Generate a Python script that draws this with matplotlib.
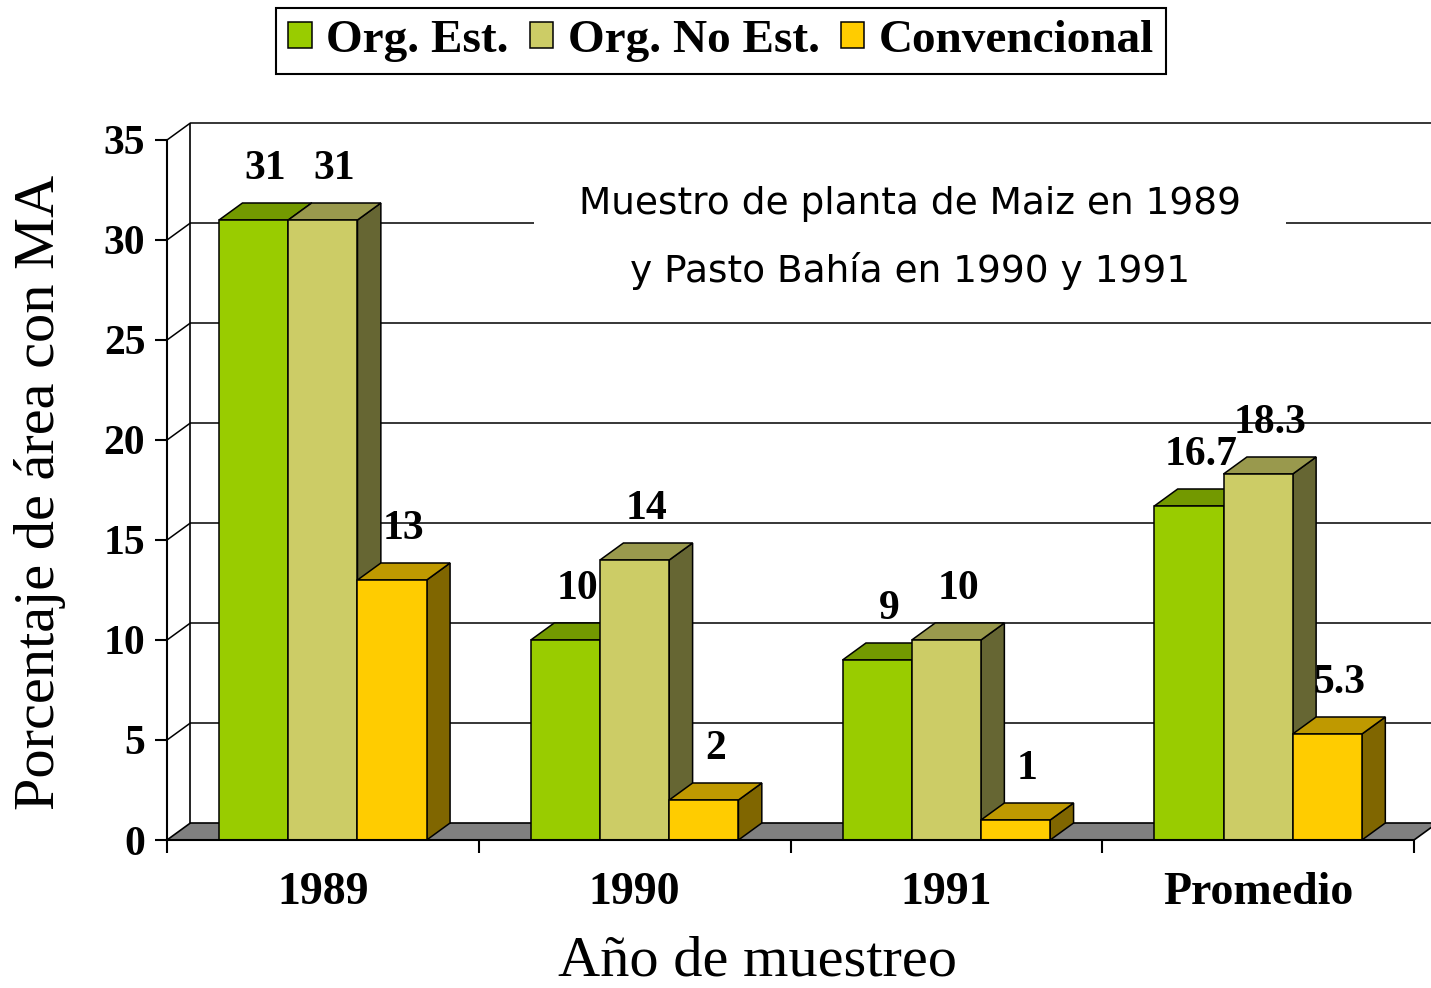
import matplotlib
matplotlib.use('Agg')
import matplotlib.pyplot as plt
from matplotlib.patches import Polygon, Patch

# data
categories = ['1989', '1990', '1991', 'Promedio']
series_names = ['Org. Est.', 'Org. No Est.', 'Convencional']
org_est = [31, 10, 9, 16.7]
org_no_est = [31, 14, 10, 18.3]
convencional = [13, 2, 1, 5.3]
y_ticks = [0, 5, 10, 15, 20, 25, 30, 35]

# face colours: front, top, side
front_colors = ['#99CC00', '#CCCC66', '#FFCC00']
top_colors = ['#739900', '#99994D', '#BF9900']
side_colors = ['#4D6600', '#666633', '#806600']

plt.rcParams['font.family'] = ['Liberation Serif', 'DejaVu Serif']

fig = plt.figure(figsize=(14.31, 9.88), dpi=100)
ax = fig.add_axes([167 / 1431, 148 / 988, 1264 / 1431, 717 / 988])

dx, dy = 0.075, 0.85          # 3d depth offset in data units
bar_w = 0.222
x_max = 1264 / 311.75
y_top = 35

ax.set_xlim(0, x_max)
ax.set_ylim(0, y_top + dy)

# floor
n = len(categories)
floor = Polygon([(0, 0), (n, 0), (n + dx, dy), (dx, dy)], closed=True,
                facecolor='#808080', edgecolor='black', lw=1.2, zorder=1)
ax.add_patch(floor)

# back wall gridlines + side wall diagonals
for v in y_ticks[1:]:
    ax.plot([0, dx, x_max], [v, v + dy, v + dy], color='black', lw=1.1,
            zorder=0.5, clip_on=False)
ax.plot([dx, dx], [dy, y_top + dy], color='black', lw=1.2, zorder=0.5)

# bars
series = [org_est, org_no_est, convencional]
for i in range(n):
    center = i + 0.5
    for k, vals in enumerate(series):
        v = vals[i]
        x0 = center + (k - 1.5) * bar_w
        x1 = x0 + bar_w
        z = 3 + i * 3 + k
        ax.add_patch(Polygon([(x1, 0), (x1 + dx, dy), (x1 + dx, v + dy), (x1, v)],
                             closed=True, facecolor=side_colors[k],
                             edgecolor='black', lw=1.1, zorder=z))
        ax.add_patch(Polygon([(x0, v), (x1, v), (x1 + dx, v + dy), (x0 + dx, v + dy)],
                             closed=True, facecolor=top_colors[k],
                             edgecolor='black', lw=1.1, zorder=z))
        ax.add_patch(Polygon([(x0, 0), (x1, 0), (x1, v), (x0, v)],
                             closed=True, facecolor=front_colors[k],
                             edgecolor='black', lw=1.1, zorder=z))
        ax.text(x0 + bar_w / 2 + dx / 2, v + dy + 1.7, f'{v:g}',
                ha='center', va='center', fontsize=30, fontweight='bold',
                zorder=20)

# axes
for side in ['top', 'right']:
    ax.spines[side].set_visible(False)
ax.spines['left'].set_bounds(0, y_top)
ax.spines['bottom'].set_bounds(0, n)
ax.spines['left'].set_linewidth(1.5)
ax.spines['bottom'].set_linewidth(1.5)
ax.spines['left'].set_zorder(30)
ax.spines['bottom'].set_zorder(30)

ax.set_yticks(y_ticks)
ax.set_yticklabels([str(t) for t in y_ticks], fontsize=30, fontweight='bold')
ax.tick_params(axis='y', direction='out', length=8.6, width=1.5, pad=7)

ax.set_xticks(range(n + 1))
ax.set_xticklabels([])
ax.tick_params(axis='x', which='major', direction='out', length=9.4, width=1.5)
ax.set_xticks([i + 0.5 for i in range(n)], minor=True)
ax.set_xticklabels(categories, minor=True, fontsize=33, fontweight='bold')
ax.tick_params(axis='x', which='minor', length=0, pad=23)

fig.text(40 / 1431, 1 - 492 / 988, 'Porcentaje de área con MA', rotation=90,
         ha='center', va='center', fontsize=42)
fig.text(757 / 1431, 1 - 961 / 988, 'Año de muestreo',
         ha='center', va='center', fontsize=42)

# note inside the plot
ax.text(2.383, 31.8, 'Muestro de planta de Maiz en 1989', ha='center', va='center',
        fontsize=27, family='DejaVu Sans', zorder=10,
        bbox=dict(boxstyle='square,pad=1.2', facecolor='white', edgecolor='none'))
ax.text(2.383, 28.45, 'y Pasto Bahía en 1990 y 1991', ha='center', va='center',
        fontsize=27, family='DejaVu Sans', zorder=11)

handles = [Patch(facecolor=front_colors[k], edgecolor='black', lw=1.1,
                 label=series_names[k]) for k in range(3)]
leg = fig.legend(handles=handles, loc='upper center',
                 bbox_to_anchor=(721 / 1431, 1 - 8 / 988), ncol=3,
                 frameon=True, fancybox=False, edgecolor='black', framealpha=1,
                 prop={'weight': 'bold', 'size': 34}, handlelength=0.5,
                 handleheight=0.5, handletextpad=0.3, columnspacing=0.45,
                 borderpad=0.25, borderaxespad=0)
leg.get_frame().set_linewidth(1.5)

fig.savefig('out.png', dpi=100)
